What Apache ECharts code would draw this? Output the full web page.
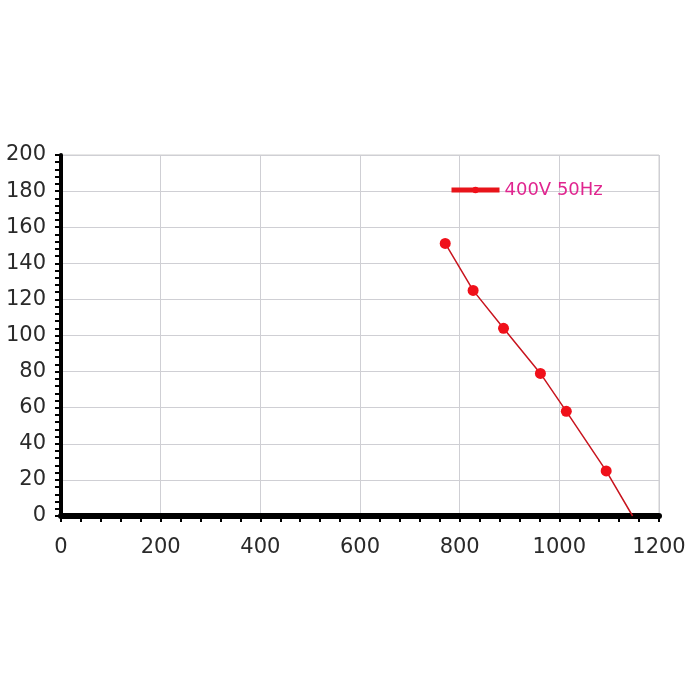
<!DOCTYPE html>
<html><head><meta charset="utf-8">
<script src="https://cdn.jsdelivr.net/npm/echarts@6/dist/echarts.min.js"></script>
<style>html,body{margin:0;padding:0;background:#fff}#c{width:700px;height:700px}</style>
</head><body><div id="c"></div>
<script>
const seriesName = '400V 50Hz';
const flowX = [771, 827, 888, 962, 1014, 1094, 1147];
const pressureY = [151, 125, 104, 79, 58, 25, 0];
const xTicks = [0, 200, 400, 600, 800, 1000, 1200];
const yTicks = [0, 20, 40, 60, 80, 100, 120, 140, 160, 180, 200];

const data = flowX.map((x, i) => [x, pressureY[i]]);
const chart = echarts.init(document.getElementById('c'));
chart.setOption({
  animation: false,
  backgroundColor: '#fff',
  grid: {left: 61, right: 41, top: 155, bottom: 184, show: true, borderColor: '#cfcfcf', borderWidth: 1},
  legend: {
    data: [seriesName], left: 444, top: 176, itemWidth: 48, itemHeight: 8, itemGap: 8,
    lineStyle: {width: 5, color: '#e8141a'},
    textStyle: {color: '#e0258f', fontSize: 18, fontFamily: 'DejaVu Sans'}
  },
  xAxis: {
    type: 'value', min: xTicks[0], max: xTicks[xTicks.length - 1], interval: 200,
    axisLine: {show: true, onZero: false, lineStyle: {color: '#000', width: 6}},
    axisTick: {show: true, inside: false, length: 6, lineStyle: {color: '#000', width: 2}},
    minorTick: {show: true, splitNumber: 5, length: 6, lineStyle: {color: '#000', width: 2}},
    axisLabel: {color: '#2a2a2a', fontSize: 21, fontFamily: 'DejaVu Sans', margin: 21, formatter: v => String(v)},
    splitLine: {show: true, lineStyle: {color: '#cfcfd4', width: 1}}
  },
  yAxis: {
    type: 'value', min: yTicks[0], max: yTicks[yTicks.length - 1], interval: 20,
    axisLine: {show: true, onZero: false, lineStyle: {color: '#000', width: 4}},
    axisTick: {show: true, inside: false, length: 6, lineStyle: {color: '#000', width: 2}},
    minorTick: {show: true, splitNumber: 5, length: 6, lineStyle: {color: '#000', width: 2}},
    axisLabel: {color: '#2a2a2a', fontSize: 21, fontFamily: 'DejaVu Sans', margin: 15, formatter: v => String(v)},
    splitLine: {show: true, lineStyle: {color: '#cfcfd4', width: 1}}
  },
  series: [{
    name: seriesName, type: 'line', data: data,
    symbol: (v, p) => p.dataIndex === data.length - 1 ? 'none' : 'circle',
    symbolSize: 11,
    lineStyle: {color: '#c8141e', width: 1.5},
    itemStyle: {color: '#f0101a'}
  }]
});
</script></body></html>
